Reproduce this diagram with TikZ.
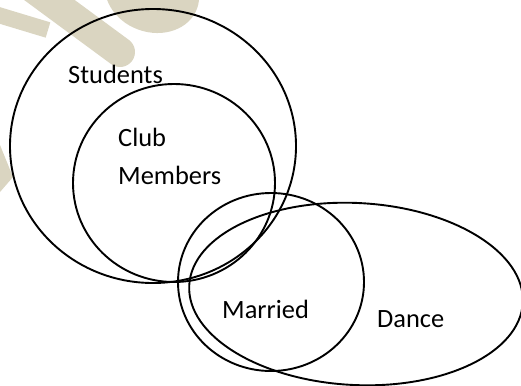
\documentclass[tikz,border=0pt]{standalone}
\usepackage{fontspec}
\setmainfont{Carlito}
\begin{document}
\begin{tikzpicture}[x=1bp,y=-1bp,
  set/.style={draw=black,line width=1.9bp},
  lbl/.style={anchor=base west,inner sep=0pt,font=\fontsize{26.5}{30}\selectfont},
  wm/.style={draw=wmcol,line width=#1,line cap=round}]
\definecolor{wmcol}{HTML}{DAD5C1}
\useasboundingbox (0,0) rectangle (521,385);
\clip (0,0) rectangle (521,385);
% faint watermark
\draw[wm=30bp] (25,-18) -- (120,52);
\draw[wm=16bp,line cap=butt] (48,30) -- (-5,14);
\fill[wmcol,rotate around={-20:(152,-8)}] (152,-8) ellipse [x radius=48, y radius=40];
\fill[wmcol] (0,145) -- (13,177) -- (0,192) -- cycle;
% sets
\draw[set] (153,146) ellipse [x radius=143, y radius=137];
\draw[set] (174,183) ellipse [x radius=101, y radius=99];
\draw[set] (271,282) ellipse [x radius=93, y radius=89];
\draw[set,rotate around={-3:(356,294)}] (356,294) ellipse [x radius=167, y radius=91];
% labels
\node[lbl] (students) at (68,83) {Students};
\node[lbl] (club) at (118,146) {Club};
\node[lbl] (members) at (118,184) {Members};
\node[lbl] (married) at (222,318) {Married};
\node[lbl] (dance) at (377,327) {Dance};
\end{tikzpicture}
\end{document}
